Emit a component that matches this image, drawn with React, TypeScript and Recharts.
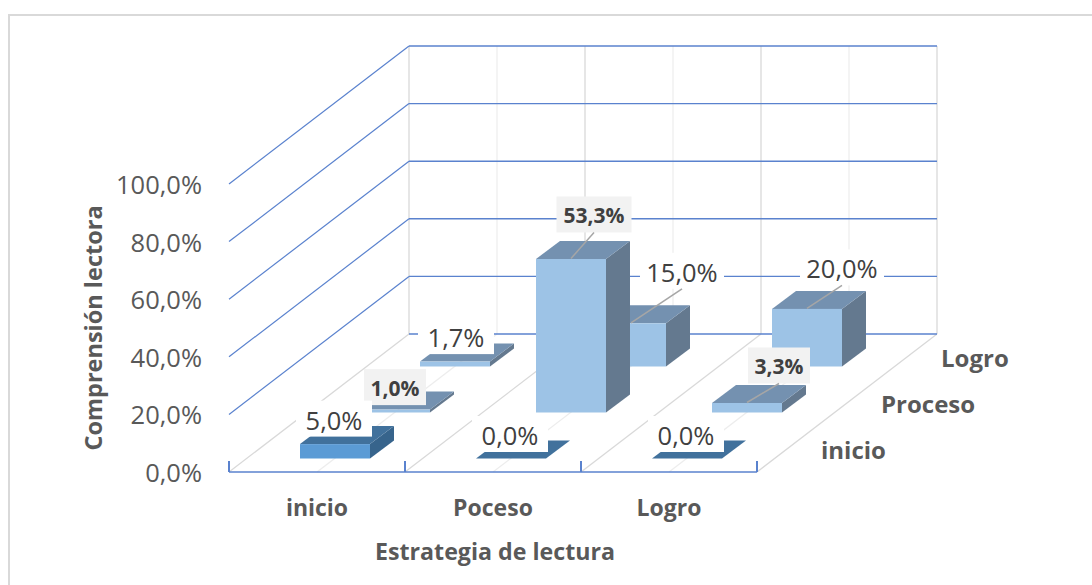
import React from "react";
import { BarChart, Bar, XAxis, YAxis, CartesianGrid, LabelList } from "recharts";

const categories = ["inicio", "Poceso", "Logro"];
const rowNames = ["inicio", "Proceso", "Logro"];
const inicioValues = [5.0, 0.0, 0.0];
const procesoValues = [1.0, 53.3, 3.3];
const logroValues = [1.7, 15.0, 20.0];
const yTicks = [0, 20, 40, 60, 80, 100];

const data = categories.map((c, i) => ({
  cat: c,
  inicio: inicioValues[i],
  proceso: procesoValues[i],
  logro: logroValues[i],
}));

const FONT = "'Open Sans', sans-serif";
const GREY = "#595959";
const BLUE = "#5A82CE";
const WALL_DX = 180;
const WALL_DY = -138;
const ROW_DX = 60;
const ROW_DY = -46;
const GAP_DX = 18;
const GAP_DY = -14;
const BAR_DX = 24;
const BAR_DY = -18;

const shift = (row: number) => ({ dx: GAP_DX + ROW_DX * row, dy: GAP_DY + ROW_DY * row });

const fmt = (v: number) => v.toFixed(1).replace(".", ",") + "%";

const palette = [
  { front: "#5B9BD5", top: "#41719C", side: "#37648C" },
  { front: "#9DC3E6", top: "#7491B0", side: "#64798F" },
  { front: "#9DC3E6", top: "#7491B0", side: "#64798F" },
];

const makeShape = (row: number) => (p: any) => {
  const { x, y, width, height } = p;
  const { dx, dy } = shift(row);
  const c = palette[row];
  const l = x + dx;
  const r = l + width;
  const t = y + dy + 0.5;
  const b = t + height;
  return (
    <g>
      <polygon points={`${r},${t} ${r + BAR_DX},${t + BAR_DY} ${r + BAR_DX},${b + BAR_DY} ${r},${b}`} fill={c.side} />
      <polygon points={`${l},${t} ${l + BAR_DX},${t + BAR_DY} ${r + BAR_DX},${t + BAR_DY} ${r},${t}`} fill={c.top} />
      {height > 0 && <rect x={l} y={t} width={width} height={height} fill={c.front} />}
    </g>
  );
};

// label placement relative to the centre of the bar's front top edge
// [offset x, offset y, box width, box height, highlighted, has leader]
const labelPlacement: number[][][] = [
  [[-1, -25, 76, 36, 0, 0], [-1, -24, 76, 36, 0, 0], [-1, -24, 76, 36, 0, 0]],
  [[0, -22, 62, 36, 1, 0], [23, -44, 75, 36, 1, 1], [32, -37, 62, 36, 1, 1]],
  [[1, -25, 76, 36, 0, 0], [51, -52, 84, 36, 0, 1], [35, -41, 84, 36, 0, 1]],
];

const makeLabel = (row: number) => (p: any) => {
  const { x, y, width, value, index } = p;
  const { dx, dy } = shift(row);
  const [ox, oy, bw, bh, hi, leader] = labelPlacement[row][index];
  const fx = x + dx + width / 2;
  const fy = y + dy;
  const cx = fx + ox;
  const cy = fy + oy;
  return (
    <g>
      <rect x={cx - bw / 2} y={cy - bh / 2} width={bw} height={bh} fill={hi ? "#F2F2F2" : "#FFFFFF"} />
      {leader ? <line x1={fx} y1={fy} x2={cx} y2={cy + bh / 2} stroke="#A6A6A6" strokeWidth={1.5} /> : null}
      <text
        x={cx}
        y={cy + 1}
        textAnchor="middle"
        dominantBaseline="central"
        fontFamily={FONT}
        fontSize={hi ? 21 : 25.5}
        fontWeight={hi ? 700 : 400}
        fill="#404040"
      >
        {fmt(value)}
      </text>
    </g>
  );
};

const gridLine = (p: any) => {
  const { x1, x2, y1 } = p;
  const bottom = 472;
  const atFloor = Math.abs(y1 - bottom) < 1;
  const bx1 = x1 + WALL_DX;
  const bx2 = x2 + WALL_DX;
  const by = y1 + WALL_DY;
  const seg = (x2 - x1) / 6;
  const backTop = bottom + WALL_DY - (bottom - 184);
  return (
    <g key={`g-${y1}`}>
      {atFloor && (
        <g>
          {[0, 1, 2, 3, 4, 5, 6].map((i) => (
            <g key={i}>
              <line
                x1={x1 + seg * i}
                y1={y1}
                x2={bx1 + seg * i}
                y2={by}
                stroke={i % 2 === 0 ? "#D9D9D9" : "#EDEDED"}
                strokeWidth={1.3}
              />
              <line
                x1={bx1 + seg * i}
                y1={by}
                x2={bx1 + seg * i}
                y2={backTop}
                stroke={i % 2 === 0 ? "#D9D9D9" : "#EFEFEF"}
                strokeWidth={1.3}
              />
            </g>
          ))}
          {[0, 2, 4, 6].map((i) => (
            <line key={i} x1={x1 + seg * i} y1={y1 - 11} x2={x1 + seg * i} y2={y1} stroke={BLUE} strokeWidth={2} />
          ))}
          <line x1={x1} y1={y1} x2={x2} y2={y1} stroke={BLUE} strokeWidth={1.6} />
          {rowNames.map((n, i) => (
            <text
              key={n}
              x={x2 + 64 + ROW_DX * i}
              y={y1 - 22.5 + ROW_DY * i}
              dominantBaseline="central"
              fontFamily={FONT}
              fontSize={24}
              fontWeight={700}
              fill={GREY}
            >
              {n}
            </text>
          ))}
        </g>
      )}
      {!atFloor && <line x1={x1} y1={y1} x2={bx1} y2={by} stroke={BLUE} strokeWidth={1.2} />}
      <line x1={bx1} y1={by} x2={bx2} y2={by} stroke={BLUE} strokeWidth={1.4} />
    </g>
  );
};

const rows = [
  { key: "logro", row: 2 },
  { key: "proceso", row: 1 },
  { key: "inicio", row: 0 },
];

export default function App() {
  return (
    <div style={{ position: "fixed", left: 0, top: 0, width: 1092, height: 585, background: "#fff", overflow: "hidden" }}>
      <div
        style={{
          position: "absolute",
          left: 8,
          top: 14,
          width: 1200,
          height: 700,
          border: "2px solid #D9D9D9",
          boxSizing: "border-box",
        }}
      />
      <div style={{ position: "absolute", left: 0, top: 0 }}>
        <BarChart
          width={1092}
          height={585}
          data={data}
          barSize={70}
          barGap={-70}
          margin={{ left: 81, top: 184, right: 335, bottom: 13 }}
        >
          <CartesianGrid horizontal={gridLine as any} vertical={false} />
          <XAxis
            dataKey="cat"
            height={100}
            axisLine={false}
            tickLine={false}
            tickMargin={22}
            tick={{ fontFamily: FONT, fontSize: 23, fontWeight: 700, fill: GREY }}
            label={{
              value: "Estrategia de lectura",
              position: "insideBottom",
              offset: 12,
              dx: 2,
              style: { fontFamily: FONT, fontSize: 23.2, fontWeight: 700, fill: GREY },
            }}
          />
          <YAxis
            width={148}
            domain={[0, 100]}
            ticks={yTicks}
            axisLine={false}
            tickLine={false}
            tickMargin={21}
            tickFormatter={fmt}
            tick={{ fontFamily: FONT, fontSize: 25.5, fill: GREY, dy: 1 } as any}
            label={{
              value: "Comprensión lectora",
              angle: -90,
              position: "insideLeft",
              offset: 13,
              style: { fontFamily: FONT, fontSize: 23.5, fontWeight: 700, fill: GREY, textAnchor: "middle" },
            }}
          />
          {rows.map(({ key, row }) => (
            <Bar key={key} dataKey={key} isAnimationActive={false} shape={makeShape(row) as any}>
              <LabelList dataKey={key} content={makeLabel(row) as any} />
            </Bar>
          ))}
        </BarChart>
      </div>
    </div>
  );
}
